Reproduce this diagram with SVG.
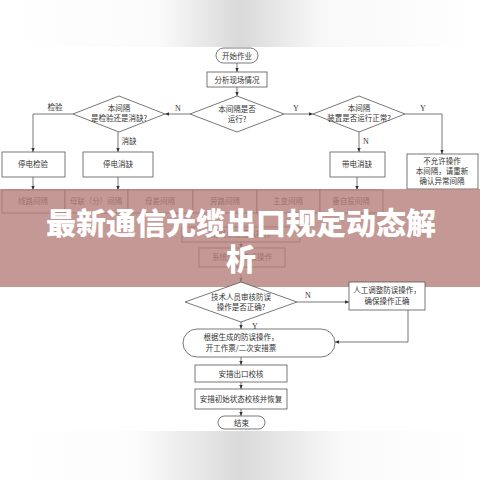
<svg xmlns="http://www.w3.org/2000/svg" width="480" height="480" viewBox="0 0 480 480">
<style>
.b{fill:#fff;stroke:#555;stroke-width:0.8}
.t{font-family:"Noto Sans CJK SC","Noto Serif CJK SC",sans-serif;font-size:7.5px;fill:#333;text-anchor:middle}
.l{font-family:"Liberation Serif","Noto Sans CJK SC",serif;font-size:8px;fill:#333;text-anchor:middle}
.c{fill:none;stroke:#555;stroke-width:0.8}
.title{font-family:"Noto Sans CJK SC",sans-serif;font-weight:900;font-size:30px;fill:#fff;text-anchor:middle}
</style>
<defs>
<linearGradient id="gt" x1="0" y1="0" x2="1" y2="0">
<stop offset="0" stop-color="#fff"/><stop offset="0.33" stop-color="#fbfbfb"/><stop offset="0.5" stop-color="#d9d9d9"/><stop offset="0.67" stop-color="#f8f8f8"/><stop offset="1" stop-color="#fff"/>
</linearGradient>
<linearGradient id="gb" x1="0" y1="0" x2="1" y2="0">
<stop offset="0" stop-color="#fff"/><stop offset="0.28" stop-color="#fcfcfc"/><stop offset="0.5" stop-color="#dadada"/><stop offset="0.72" stop-color="#fafafa"/><stop offset="1" stop-color="#fff"/>
</linearGradient>
<marker id="a" viewBox="0 0 6 6" refX="6" refY="3" markerWidth="5" markerHeight="5" orient="auto">
<path d="M0,0.5 L6,3 L0,5.5 z" fill="#333"/>
</marker>
</defs>
<rect width="480" height="480" fill="#fff"/>
<rect x="0" y="0" width="480" height="47" fill="url(#gt)"/>
<rect x="0" y="431" width="480" height="49" fill="url(#gb)"/>

<g id="connectors">
<path class="c" d="M237,63 V72" marker-end="url(#a)"/>
<path class="c" d="M237,87 V96" marker-end="url(#a)"/>
<path class="c" d="M190,114 H165" marker-end="url(#a)"/>
<path class="c" d="M284,114 H313" marker-end="url(#a)"/>
<path class="c" d="M73,114 H33 V152" marker-end="url(#a)"/>
<path class="c" d="M118,132 V152" marker-end="url(#a)"/>
<path class="c" d="M405,114 H442 V154" marker-end="url(#a)"/>
<path class="c" d="M359,132 V152" marker-end="url(#a)"/>
<path class="c" d="M33,177 V190" marker-end="url(#a)"/>
<path class="c" d="M118,177 V190" marker-end="url(#a)"/>
<path class="c" d="M357,177 V190" marker-end="url(#a)"/>
<path class="c" d="M241,242 V248" marker-end="url(#a)"/>
<path class="c" d="M241,267 V282" marker-end="url(#a)"/>
<path class="c" d="M297,302 H349" marker-end="url(#a)"/>
<path class="c" d="M408,310 V342 H335" marker-end="url(#a)"/>
<path class="c" d="M241,322 V329" marker-end="url(#a)"/>
<path class="c" d="M241,357 V365" marker-end="url(#a)"/>
<path class="c" d="M241,382 V389" marker-end="url(#a)"/>
<path class="c" d="M241,409 V416" marker-end="url(#a)"/>
<text class="l" x="178" y="111">N</text>
<text class="l" x="296" y="111">Y</text>
<text class="t" x="55" y="110">检验</text>
<text class="t" x="129" y="144">消缺</text>
<text class="l" x="423" y="111">Y</text>
<text class="l" x="366" y="144">N</text>
<text class="l" x="308" y="298">N</text>
<text class="l" x="255" y="329">Y</text>
</g>

<g id="start"><rect class="b" x="216" y="48" width="42" height="15" rx="7.5"/><text class="t" x="237" y="58.5">开始作业</text></g>
<g id="analyze"><rect class="b" x="207" y="72" width="60" height="15"/><text class="t" x="237" y="82.5">分析现场情况</text></g>
<g id="d-run"><polygon class="b" points="237,96 284,114 237,132 190,114"/><text class="t" x="237" y="112">本间隔是否</text><text class="t" x="237" y="122">运行?</text></g>
<g id="d-check"><polygon class="b" points="119,96 165,114 119,132 73,114"/><text class="t" x="119" y="111">本间隔</text><text class="t" x="119" y="121">是检验还是消缺?</text></g>
<g id="d-dev"><polygon class="b" points="359,96 405,114 359,132 313,114"/><text class="t" x="359" y="111">本间隔</text><text class="t" x="359" y="121">装置是否运行正常?</text></g>
<g id="b-tdjy"><rect class="b" x="2" y="152" width="63" height="25"/><text class="t" x="33" y="167">停电检验</text></g>
<g id="b-tdxq"><rect class="b" x="83" y="152" width="70" height="25"/><text class="t" x="118" y="167">停电消缺</text></g>
<g id="b-ddxq"><rect class="b" x="330" y="152" width="55" height="25"/><text class="t" x="357" y="167">带电消缺</text></g>
<g id="b-noallow"><rect class="b" x="407" y="154" width="71" height="35"/><text class="t" x="442" y="164">不允许操作</text><text class="t" x="442" y="174">本间隔，请重新</text><text class="t" x="442" y="184">确认异常间隔</text></g>
<g id="row">
<rect class="b" x="2" y="190" width="63" height="23"/><text class="t" x="33" y="204">线路间隔</text>
<rect class="b" x="65" y="190" width="63" height="23"/><text class="t" x="96" y="204">母联（分）间隔</text>
<rect class="b" x="128" y="190" width="65" height="23"/><text class="t" x="160" y="204">母差间隔</text>
<rect class="b" x="193" y="190" width="64" height="23"/><text class="t" x="225" y="204">旁路间隔</text>
<rect class="b" x="257" y="190" width="63" height="23"/><text class="t" x="288" y="204">主变间隔</text>
<rect class="b" x="320" y="190" width="63" height="23"/><text class="t" x="351" y="204">备自投间隔</text>
</g>
<g id="b-hidden"><rect class="b" x="182" y="227" width="118" height="15"/><text class="t" x="241" y="237">防误系统模拟操作</text></g>
<g id="b-sys"><rect class="b" x="199" y="248" width="86" height="19"/><text class="t" x="242" y="260">系统生成防误操作</text></g>

<g id="banner">
<rect x="0" y="189" width="480" height="98" fill="#b5807a" fill-opacity="0.8"/>
<text class="title" x="241" y="234">最新通信光缆出口规定动态解</text>
<text class="title" x="241" y="270">析</text>
</g>

<g id="d-tech"><polygon class="b" points="241,282 297,302 241,322 185,302"/><text class="t" x="241" y="300">技术人员审核防误</text><text class="t" x="241" y="310">操作是否正确?</text></g>
<g id="b-manual"><rect class="b" x="349" y="282" width="76" height="28"/><text class="t" x="387" y="293">人工调整防误操作，</text><text class="t" x="387" y="304">确保操作正确</text></g>
<g id="b-ticket"><rect class="b" x="183" y="329" width="152" height="28" rx="14"/><text class="t" x="241" y="340">根据生成的防误操作，</text><text class="t" x="241" y="351">开工作票/二次安措票</text></g>
<g id="b-exit"><rect class="b" x="195" y="365" width="92" height="17"/><text class="t" x="241" y="376.5">安措出口校核</text></g>
<g id="b-restore"><rect class="b" x="195" y="389" width="92" height="20"/><text class="t" x="241" y="402">安措初始状态校核并恢复</text></g>
<g id="end"><rect class="b" x="218" y="416" width="47" height="13" rx="6.5"/><text class="t" x="241.5" y="425.5">结束</text></g>
</svg>
